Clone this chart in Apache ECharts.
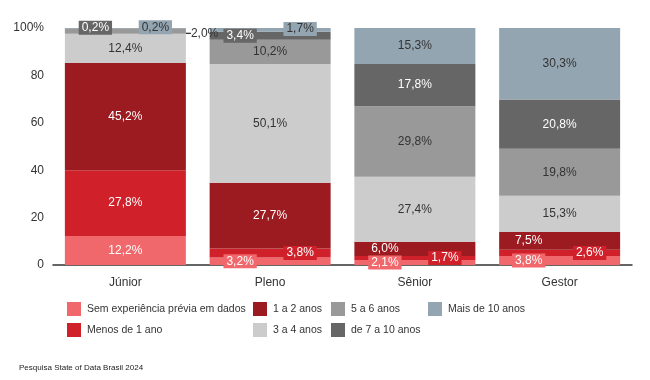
<!DOCTYPE html>
<html><head><meta charset="utf-8">
<script src="https://cdn.jsdelivr.net/npm/echarts@6/dist/echarts.min.js"></script>
<style>html,body{margin:0;padding:0;background:#fff}#c{width:650px;height:380px}</style>
</head><body><div id="c"></div>
<script>
const categories = ['Júnior', 'Pleno', 'Sênior', 'Gestor'];
const seriesNames = ['Sem experiência prévia em dados', 'Menos de 1 ano', '1 a 2 anos', '3 a 4 anos', '5 a 6 anos', 'de 7 a 10 anos', 'Mais de 10 anos'];
const semExperiencia = [12.2, 3.2, 2.1, 3.8];
const menosDe1 = [27.8, 3.8, 1.7, 2.6];
const de1a2 = [45.2, 27.7, 6.0, 7.5];
const de3a4 = [12.4, 50.1, 27.4, 15.3];
const de5a6 = [2.0, 10.2, 29.8, 19.8];
const de7a10 = [0.2, 3.4, 17.8, 20.8];
const maisDe10 = [0.2, 1.7, 15.3, 30.3];
const yTicks = [0, 20, 40, 60, 80, 100];
const footer = 'Pesquisa State of Data Brasil 2024';

const values = [semExperiencia, menosDe1, de1a2, de3a4, de5a6, de7a10, maisDe10];
const colors = ['#f0686c', '#d0202a', '#9b1b20', '#cccccc', '#999999', '#666666', '#94a5b2'];
const textColors = ['#fff', '#fff', '#fff', '#333', '#333', '#fff', '#333'];
// label styling tweaks: [seriesIndex][categoryIndex]
const tweaks = {
  0: {1: {dx: -30, dy: 0, box: true}, 2: {dx: -30, dy: 0, box: true}, 3: {dx: -31, dy: 0, box: true}},
  1: {1: {dx: 30, dy: 0, box: true}, 2: {dx: 30, dy: 0, box: true}, 3: {dx: 30, dy: 0, box: true}},
  2: {2: {dx: -30, dy: 0}, 3: {dx: -31, dy: 0}},
  4: {0: {dx: 0, dy: 2, outside: true}},
  5: {0: {dx: -30, dy: -1, box: true}, 1: {dx: -30, dy: 0, box: true}},
  6: {0: {dx: 30, dy: -1, box: true}, 1: {dx: 30, dy: -1, box: true}}
};
const fmt = v => v.toFixed(1).replace('.', ',') + '%';
const FONT = 'Liberation Sans';

const series = values.map((arr, si) => ({
  name: seriesNames[si],
  type: 'bar',
  stack: 'total',
  barWidth: 121,
  itemStyle: {color: colors[si]},
  label: {
    show: true, position: 'inside', color: textColors[si],
    fontFamily: FONT, fontSize: 12,
    formatter: p => fmt(p.value)
  },
  labelLayout: p => {
    const t = tweaks[si] && tweaks[si][p.dataIndex];
    return t ? {dx: t.dx, dy: t.dy} : {};
  },
  data: arr.map((v, ci) => {
    const t = tweaks[si] && tweaks[si][ci];
    if (!t) return v;
    if (t.outside) {
      return {value: v, label: {position: 'right', color: '#333'},
              labelLine: {show: true, lineStyle: {color: '#222', width: 1.2}}};
    }
    return {value: v, label: {
      backgroundColor: t.box ? colors[si] : 'transparent',
      padding: t.box ? [1, 3] : 0
    }};
  })
}));

const legendCols = [[0, 1], [2, 3], [4, 5], [6]];
const legendLeft = [62, 248, 326, 423];
const legends = legendCols.map((idx, k) => ({
  orient: 'vertical', left: legendLeft[k], top: 297,
  itemWidth: 14, itemHeight: 14, itemGap: 7, icon: 'rect',
  textStyle: {fontFamily: FONT, fontSize: 10.5, color: '#333', padding: [0, 0, 0, 1]},
  selectedMode: false,
  data: idx.map(i => seriesNames[i])
}));

const chart = echarts.init(document.getElementById('c'), null, {renderer: 'canvas'});
chart.setOption({
  animation: false,
  textStyle: {fontFamily: FONT},
  title: {text: footer, left: 14, top: 359, textStyle: {fontFamily: FONT, fontSize: 8, fontWeight: 'normal', color: '#222'}},
  grid: {left: 53, right: 18, top: 28, bottom: 115},
  legend: legends,
  xAxis: {
    type: 'category', data: categories,
    axisTick: {show: false},
    axisLine: {lineStyle: {color: '#333', width: 1.5}},
    axisLabel: {fontFamily: FONT, fontSize: 12, color: '#333', margin: 12}
  },
  yAxis: {
    type: 'value', min: yTicks[0], max: yTicks[yTicks.length - 1], interval: 20,
    axisLine: {show: false}, axisTick: {show: false}, splitLine: {show: false},
    axisLabel: {fontFamily: FONT, fontSize: 12, color: '#333', margin: 9,
      formatter: v => v === 100 ? '100%' : String(v)}
  },
  series: series
});
</script></body></html>
